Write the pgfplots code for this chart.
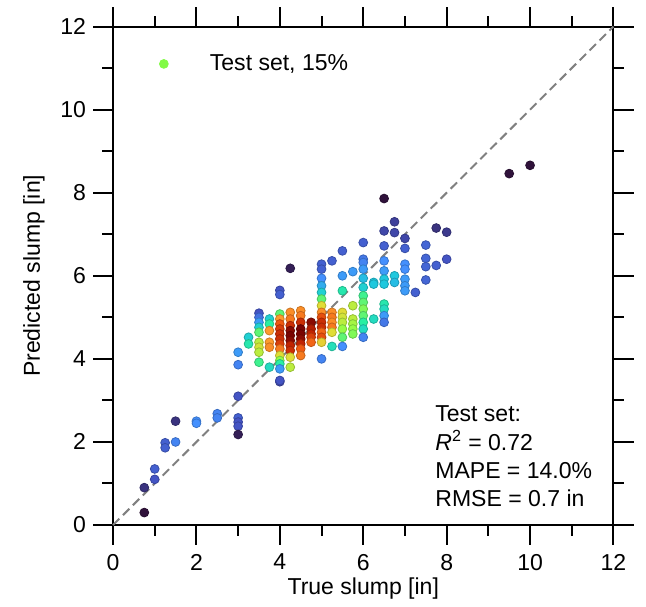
\documentclass[border=0pt]{standalone}
\usepackage{fontspec}
\setmainfont{Liberation Sans}
\usepackage{pgfplots}
\pgfplotsset{compat=1.18}

\definecolor{legendgreen}{RGB}{130,250,70}

\begin{document}
\begin{tikzpicture}
\begin{axis}[
    width=250pt, height=249pt, scale only axis,
    xmin=0, xmax=12, ymin=0, ymax=12,
    xtick={0,2,...,12}, ytick={0,2,...,12},
    minor tick num=1,
    % ticks pointing out on all four sides
    tick align=inside, tick pos=both,
    major tick length=-10pt, minor tick length=-5.5pt,
    every tick/.style={black, line width=1pt},
    axis line style={line width=1pt},
    /pgf/number format/assume math mode=true,
    tick label style={font=\fontsize{11.5}{13}\selectfont},
    xticklabel style={yshift=-11pt},
    yticklabel style={xshift=-10pt},
    label style={font=\fontsize{11.5}{13}\selectfont},
    xlabel={True slump [in]},
    ylabel={Predicted slump [in]},
    x label style={at={(axis description cs:0.5,-0.1265)}, anchor=center},
    y label style={at={(axis description cs:-0.158,0.5)}, anchor=center},
    clip=false,
    colormap={turbo}{rgb255=(48,18,59) rgb255=(68,84,196) rgb255=(68,144,254)
        rgb255=(31,200,222) rgb255=(41,239,162) rgb255=(150,252,70)
        rgb255=(225,221,55) rgb255=(254,155,45) rgb255=(239,89,17)
        rgb255=(194,36,2) rgb255=(122,4,3)},
    point meta min=0, point meta max=1,
    legend style={draw=none, fill=none, at={(rel axis cs:0.08,0.961)}, anchor=north west,
        font=\fontsize{11.5}{13}\selectfont},
    legend image post style={xshift=-4pt},
]

% page extent of the reference
\path (axis cs:-2.71,-1.95) rectangle (axis cs:12.78,12.64);

% parity line
\addplot[forget plot, color={rgb,255:red,128;green,128;blue,128}, line width=1pt,
    dash pattern=on 4.5pt off 2.5pt] coordinates {(0,0) (12,12)};

% test set, coloured by point density
\addplot[forget plot, scatter, only marks, mark=*, mark size=2.2pt,
    point meta=explicit] table[meta=c] {
x y c
0.75 0.30 0.00
0.75 0.90 0.05
1.00 1.10 0.10
1.00 1.35 0.12
1.25 1.98 0.12
1.25 1.86 0.12
1.50 2.00 0.18
1.50 2.50 0.05
2.00 2.50 0.20
2.00 2.45 0.20
2.50 2.68 0.18
2.50 2.58 0.18
3.00 3.10 0.10
3.00 2.58 0.12
3.00 2.48 0.10
3.00 2.38 0.10
3.00 2.18 0.02
3.00 3.86 0.18
3.00 4.16 0.22
4.00 3.45 0.08
3.25 4.52 0.32
3.25 4.36 0.38
3.50 5.10 0.10
3.50 5.00 0.15
3.50 4.88 0.22
3.50 4.76 0.32
3.50 4.64 0.45
3.50 4.40 0.55
3.50 4.28 0.58
3.50 4.16 0.55
3.50 3.92 0.42
3.75 4.96 0.32
3.75 4.84 0.40
3.75 4.68 0.70
3.75 4.40 0.70
3.75 4.28 0.72
3.75 3.80 0.35
4.00 5.65 0.10
4.00 5.55 0.12
4.00 5.08 0.45
4.00 4.96 0.70
4.00 4.84 0.80
4.00 4.72 0.85
4.00 4.60 0.88
4.00 4.48 0.88
4.00 4.36 0.85
4.00 4.24 0.75
4.00 4.08 0.60
4.00 3.96 0.50
4.00 3.88 0.40
4.00 3.76 0.22
4.00 3.48 0.10
4.25 6.18 0.02
4.25 5.12 0.72
4.25 4.96 0.75
4.25 4.80 0.88
4.25 4.68 0.98
4.25 4.56 1.00
4.25 4.44 0.98
4.25 4.32 0.90
4.25 4.20 0.88
4.25 4.04 0.60
4.25 3.80 0.55
4.50 5.16 0.72
4.50 5.04 0.75
4.50 4.88 0.88
4.50 4.72 1.00
4.50 4.60 1.00
4.50 4.48 0.98
4.50 4.36 0.90
4.50 4.24 0.80
4.50 4.08 0.75
4.75 4.88 0.98
4.75 4.72 0.92
4.75 4.60 0.90
4.75 4.52 0.85
4.75 4.40 0.78
5.00 6.28 0.12
5.00 6.16 0.12
5.00 5.94 0.20
5.00 5.76 0.25
5.00 5.60 0.32
5.00 5.44 0.45
5.00 5.28 0.60
5.00 5.12 0.72
5.00 5.00 0.82
5.00 4.88 0.88
5.00 4.76 0.88
5.00 4.64 0.78
5.00 4.52 0.82
5.00 4.40 0.62
5.00 4.00 0.18
5.25 6.36 0.12
5.25 5.12 0.72
5.25 5.00 0.75
5.25 4.88 0.72
5.25 4.76 0.75
5.25 4.64 0.60
5.25 4.30 0.36
5.50 6.60 0.12
5.50 6.00 0.22
5.50 5.64 0.38
5.50 5.12 0.60
5.50 5.00 0.58
5.50 4.88 0.55
5.50 4.72 0.50
5.50 4.52 0.45
5.50 4.30 0.20
5.75 6.10 0.22
5.75 5.28 0.55
5.75 4.96 0.55
5.75 4.84 0.52
5.75 4.72 0.50
5.75 4.60 0.48
6.00 6.80 0.12
6.00 6.40 0.16
6.00 6.32 0.18
6.00 6.16 0.22
6.00 5.94 0.28
6.00 5.72 0.32
6.00 5.52 0.42
6.00 5.36 0.45
6.00 5.20 0.48
6.00 5.04 0.45
6.00 4.88 0.40
6.00 4.72 0.35
6.00 4.52 0.18
6.25 5.84 0.30
6.25 5.80 0.30
6.25 4.96 0.35
6.50 7.86 0.00
6.50 7.08 0.08
6.50 6.72 0.12
6.50 6.36 0.20
6.50 6.12 0.22
6.50 5.92 0.30
6.50 5.80 0.30
6.50 5.32 0.38
6.50 5.20 0.35
6.50 5.04 0.22
6.50 4.88 0.16
6.75 7.30 0.07
6.75 7.04 0.08
6.75 6.00 0.30
6.75 5.84 0.28
7.00 6.90 0.08
7.00 6.66 0.12
7.00 6.28 0.20
7.00 6.16 0.20
7.00 5.92 0.22
7.00 5.76 0.22
7.00 5.64 0.22
7.25 5.60 0.12
7.50 6.74 0.13
7.50 6.42 0.13
7.50 6.22 0.13
7.50 5.90 0.13
7.75 7.15 0.05
7.75 6.25 0.12
8.00 7.05 0.06
8.00 6.40 0.10
9.50 8.46 0.00
10.00 8.66 0.00
};

\addlegendimage{only marks, mark=*, mark size=2.2pt, color=legendgreen}
\addlegendentry{\hspace{18.8pt}Test set, 15\%}

\node[anchor=north west, align=left, inner sep=0pt,
    font=\fontsize{11.5}{14.2}\selectfont] at (axis cs:7.72,2.88)
    {Test set:\\ \textit{R}\textsuperscript{2} = 0.72\\ MAPE = 14.0\%\\ RMSE = 0.7 in};
\end{axis}
\end{tikzpicture}
\end{document}
